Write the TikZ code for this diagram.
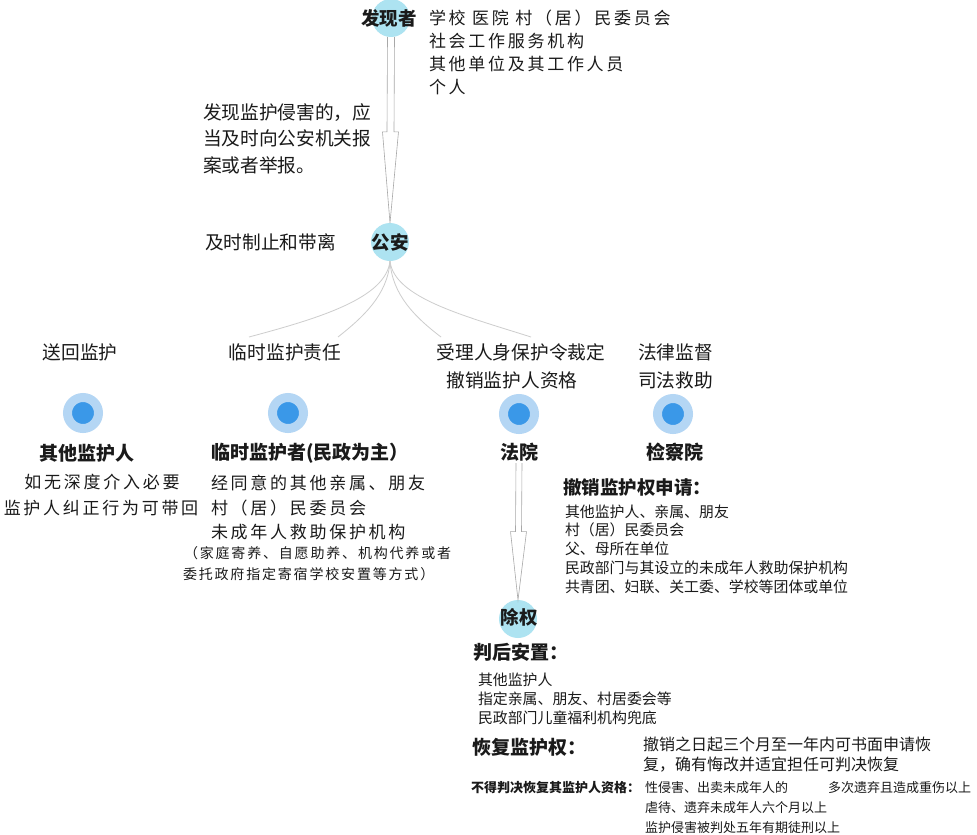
\documentclass[tikz,border=0pt]{standalone}
\usepackage{fontspec}
\setmainfont{Noto Sans CJK SC}
\newfontfamily\spaced[LetterSpace=13]{Noto Sans CJK SC}
\newfontfamily\spacedw[LetterSpace=16]{Noto Sans CJK SC}
\usetikzlibrary{calc}
\definecolor{cyanc}{HTML}{ADE3F1}
\definecolor{dotlight}{HTML}{B4D6F4}
\definecolor{dotdark}{HTML}{3A98E8}
\definecolor{linegray}{HTML}{A8A8A8}
\definecolor{curvegray}{HTML}{CDCDCD}
\definecolor{txt}{HTML}{1A1A1A}
\begin{document}
\begin{tikzpicture}[x=1pt,y=-1pt,
  every node/.style={inner sep=0pt,outer sep=0pt,text=txt},
  cyanball/.style={circle,fill=cyanc,minimum size=38pt},
  bluedot/.style={circle,fill=dotdark,draw=dotlight,line width=9pt,minimum size=31pt},
  hollow/.style={draw=linegray,line width=0.6pt,fill=white,line join=miter},
  branch/.style={draw=curvegray,line width=0.8pt},
  lbl/.style={font=\fontsize{18.7}{26.5}\selectfont},
  head/.style={font=\bfseries\fontsize{18.5}{22}\selectfont},
  thin/.style={font=\spacedw\fontsize{17}{24}\selectfont},
  tiny/.style={font=\spaced\fontsize{14}{22}\selectfont},
  small/.style={font=\fontsize{14.9}{18.8}\selectfont},
  note/.style={font=\fontsize{13}{20}\selectfont},
]
\useasboundingbox (0,0) rectangle (977,835);
\fill[white] (0,0) rectangle (977,835);

% top: finder
\node[cyanball] (fx) at (391,18) {};
\node[head] (fxt) at (389,18) {发现者};
\node[thin,anchor=north west,align=left,font=\spacedw\fontsize{17}{23}\selectfont] (fxl) at (429,9.5)
  {学校 医院 村（居）民委员会\\社会工作服务机构\\其他单位及其工作人员\\个人};

% police
\node[cyanball] (ga) at (390,242) {};
\node[head] (gat) at (390,242) {公安};

% hollow arrow finder -> police
\coordinate (h1) at ($(fx.south)!0.51!(ga.north)$);
\draw[hollow] ($(fx.south)+(-3.5,0)$) -- ($(h1)+(-3.5,0)$) -- ($(h1)+(-8,0)$) -- (ga.north)
  -- ($(h1)+(8,0)$) -- ($(h1)+(3.5,0)$) -- ($(fx.south)+(3.5,0)$);

\node[lbl,anchor=north west,align=left] (rep) at (203,103.5)
  {发现监护侵害的，应\\当及时向公安机关报\\案或者举报。};
\node[lbl,anchor=west] (stop) at (205,242) {及时制止和带离};

% branches
\coordinate (b1) at (249,337);
\coordinate (b2) at (338,337);
\coordinate (b3) at (441,337);
\coordinate (b4) at (531,337);
\draw[branch] (ga.south) .. controls (386,298) and (320,318) .. (b1);
\draw[branch] (ga.south) .. controls (388,295) and (362,318) .. (b2);
\draw[branch] (ga.south) .. controls (392,295) and (416,318) .. (b3);
\draw[branch] (ga.south) .. controls (394,298) and (465,316) .. (b4);

% branch labels
\node[lbl] (l1) at (80,352) {送回监护};
\node[lbl] (l2) at (285,352) {临时监护责任};
\node[lbl] (l3a) at (521,352) {受理人身保护令裁定};
\node[lbl] (l3b) at (512,380) {撤销监护人资格};
\node[lbl,anchor=west] (l4a) at (638,352) {法律监督};
\node[lbl,anchor=west] (l4b) at (638,380) {司法救助};

% dots
\node[bluedot] (d1) at (83,413) {};
\node[bluedot] (d2) at (288,413) {};
\node[bluedot] (d3) at (519,414) {};
\node[bluedot] (d4) at (673,414) {};

% column 1
\node[head,font=\bfseries\fontsize{19}{22}\selectfont] (qt) at (87,453) {其他监护人};
\node[thin] (q1) at (102,482) {如无深度介入必要};
\node[thin] (q2) at (101,508) {监护人纠正行为可带回};

% column 2
\node[head,font=\bfseries\fontsize{19}{22}\selectfont,anchor=west] (lt) at (211,453) {临时监护者(民政为主）};
\node[thin,anchor=north west,align=left,font=\spacedw\fontsize{17}{24.5}\selectfont] (ll) at (211,475.5)
  {经同意的其他亲属、朋友\\村（居）民委员会\\未成年人救助保护机构};
\node[tiny,anchor=west] (lp1) at (184,553) {（家庭寄养、自愿助养、机构代养或者};
\node[tiny,anchor=west] (lp2) at (183,574) {委托政府指定寄宿学校安置等方式）};

% court
\node[head,font=\bfseries\fontsize{19}{22}\selectfont,inner sep=2pt] (fy) at (519,452) {法院};
\node[head,font=\bfseries\fontsize{19}{22}\selectfont] (jc) at (675,452) {检察院};

\node[head,anchor=west] (cx) at (563,487) {撤销监护权申请：};
\node[small,anchor=north west,align=left] (cxl) at (565,504.5)
  {其他监护人、亲属、朋友\\村（居）民委员会\\父、母所在单位\\民政部门与其设立的未成年人救助保护机构\\共青团、妇联、关工委、学校等团体或单位};

% removal
\node[cyanball] (cq) at (518,619) {};
\node[head] (cqt) at (519,617) {除权};
\coordinate (h2) at ($(fy.south)!0.5!(cq.north)$);
\draw[hollow] ($(fy.south)+(-3,0)$) -- ($(h2)+(-3,0)$) -- ($(h2)+(-8,0)$) -- (cq.north)
  -- ($(h2)+(8,0)$) -- ($(h2)+(3,0)$) -- ($(fy.south)+(3,0)$);

\node[head,font=\bfseries\fontsize{19}{22}\selectfont,anchor=west] (ph) at (473,652) {判后安置：};
\node[small,anchor=north west,align=left,font=\fontsize{14.9}{19}\selectfont] (phl) at (478,672.5)
  {其他监护人\\指定亲属、朋友、村居委会等\\民政部门儿童福利机构兜底};

\node[head,font=\bfseries\fontsize{19}{22}\selectfont,anchor=west] (hf) at (472,747) {恢复监护权：};
\node[anchor=north west,align=left,font=\fontsize{16}{20}\selectfont] (hfl) at (643,737)
  {撤销之日起三个月至一年内可书面申请恢\\复，确有悔改并适宜担任可判决恢复};

\node[anchor=west,font=\bfseries\fontsize{13}{16}\selectfont] (bd) at (471,788) {不得判决恢复其监护人资格：};
\node[note,anchor=north west,align=left] (bdl) at (645,781.5)
  {性侵害、出卖未成年人的\\虐待、遗弃未成年人六个月以上\\监护侵害被判处五年有期徒刑以上};
\node[note,anchor=west] (bdr) at (828,788) {多次遗弃且造成重伤以上};
\end{tikzpicture}
\end{document}
